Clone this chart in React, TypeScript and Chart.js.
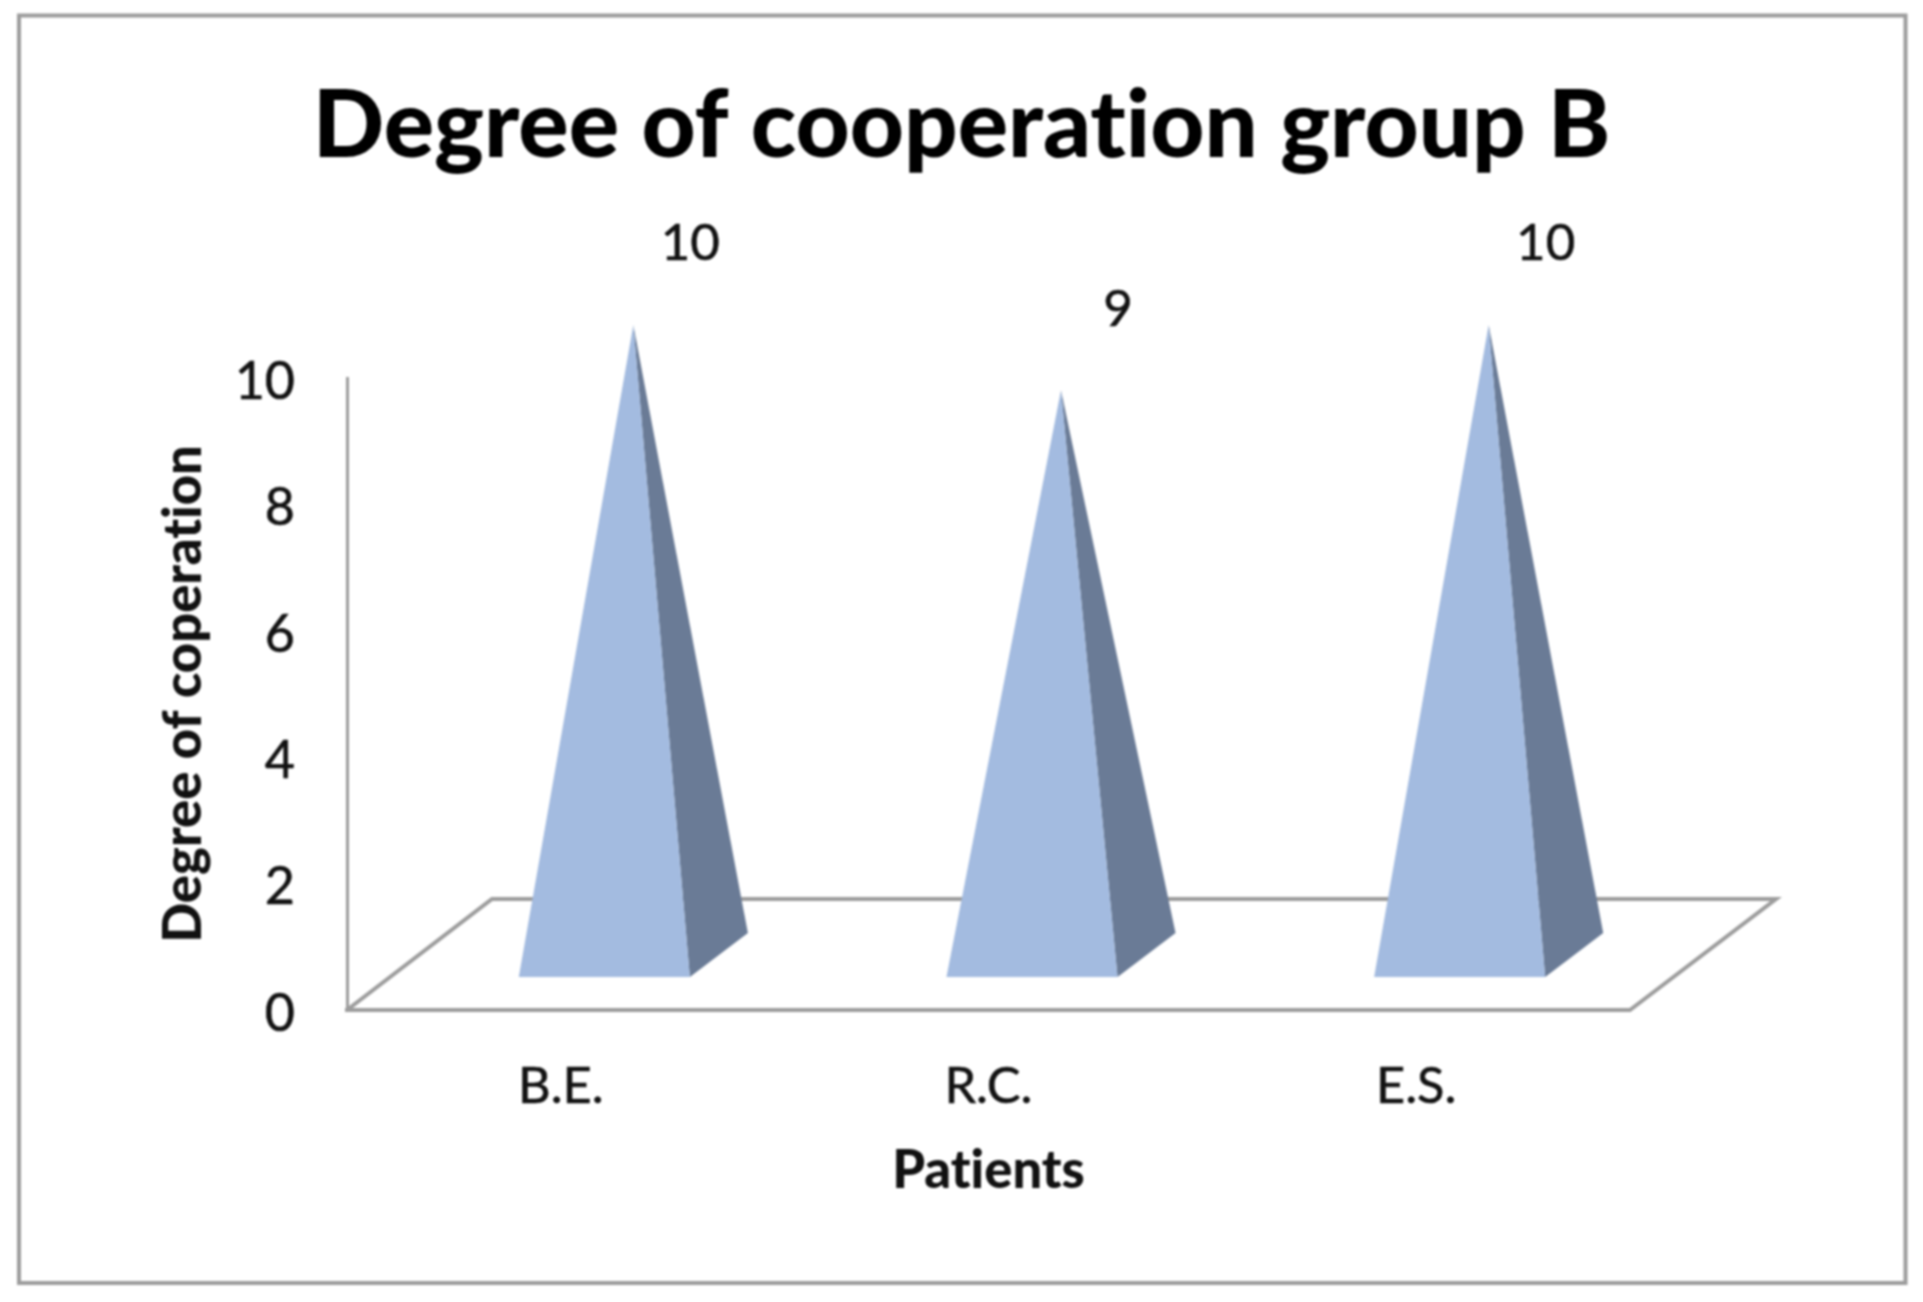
import React, { useEffect, useRef } from "react";
import { Chart, registerables } from "chart.js";

Chart.register(...registerables);

const chartTitle = "Degree of cooperation group B";
const xAxisTitle = "Patients";
const yAxisTitle = "Degree of coperation";
const patients = ["B.E.", "R.C.", "E.S."];
const cooperation = [10, 9, 10];

const FONT = "Lato, sans-serif";
const FRONT = "#a3bbe0";
const SIDE = "#6a7b96";
const LINE = "#9c9c9c";
const INK = "#111111";
const DEPTH_X = 58;
const DEPTH_Y = 44;
const SHIFT_X = 43.5;

function drawPyramid(this: any, ctx: CanvasRenderingContext2D) {
  const half = this.width / 2;
  const cx = this.x + SHIFT_X;
  const left = cx - half;
  const right = cx + half;
  const apexX = cx + DEPTH_X / 2;
  ctx.save();
  ctx.fillStyle = SIDE;
  ctx.beginPath();
  ctx.moveTo(right, this.base);
  ctx.lineTo(right + DEPTH_X, this.base - DEPTH_Y);
  ctx.lineTo(apexX, this.y);
  ctx.closePath();
  ctx.fill();
  ctx.fillStyle = this.options.backgroundColor;
  ctx.beginPath();
  ctx.moveTo(left, this.base);
  ctx.lineTo(right, this.base);
  ctx.lineTo(apexX, this.y);
  ctx.closePath();
  ctx.fill();
  ctx.restore();
}

const pyramidPlugin = {
  id: "pyramids",
  afterDatasetUpdate(chart: any) {
    chart.getDatasetMeta(0).data.forEach((el: any) => {
      el.draw = drawPyramid;
    });
  },
  beforeDraw(chart: any) {
    const { ctx, width, height } = chart;
    ctx.save();
    ctx.fillStyle = "#fff";
    ctx.fillRect(0, 0, width, height);
    ctx.strokeStyle = "#9c9c9c";
    ctx.lineWidth = 4;
    ctx.strokeRect(19, 15.5, 1886.5, 1267.5);
    ctx.restore();
    ctx.textRendering = "optimizeSpeed";
  },
  beforeDatasetsDraw(chart: any) {
    const { ctx, chartArea: a } = chart;
    ctx.save();
    ctx.strokeStyle = LINE;
    ctx.lineWidth = 4;
    ctx.lineJoin = "miter";
    ctx.beginPath();
    ctx.moveTo(a.left, a.bottom);
    ctx.lineTo(a.left + 145, a.bottom - 111);
    ctx.lineTo(a.right + 146, a.bottom - 111);
    ctx.lineTo(a.right, a.bottom);
    ctx.stroke();
    ctx.restore();
  },
  afterDatasetsDraw(chart: any) {
    const { ctx } = chart;
    ctx.save();
    ctx.fillStyle = INK;
    ctx.strokeStyle = INK;
    ctx.lineWidth = 0.6;
    ctx.font = `51px ${FONT}`;
    ctx.textAlign = "center";
    ctx.textBaseline = "middle";
    chart.getDatasetMeta(0).data.forEach((el: any, i: number) => {
      const apexX = el.x + SHIFT_X + DEPTH_X / 2;
      const label = String(cooperation[i]);
      ctx.fillText(label, apexX + 57, el.y - 81);
      ctx.strokeText(label, apexX + 57, el.y - 81);
    });
    ctx.restore();
  },
};

export default function App() {
  const ref = useRef<HTMLCanvasElement>(null);
  useEffect(() => {
    const chart = new Chart(ref.current as HTMLCanvasElement, {
      type: "bar",
      data: {
        labels: patients,
        datasets: [
          {
            label: yAxisTitle,
            data: cooperation,
            backgroundColor: FRONT,
            yAxisID: "depth",
            barPercentage: 0.4,
            categoryPercentage: 1,
            clip: false,
          } as any,
        ],
      },
      plugins: [pyramidPlugin],
      options: {
        animation: false,
        responsive: false,
        layout: { padding: 0 },
        plugins: {
          legend: { display: false },
          tooltip: { enabled: false },
          title: {
            display: true,
            text: chartTitle,
            color: "#000",
            font: { family: FONT, size: 94, weight: "900", lineHeight: 1.2 },
            padding: { top: 70.6, bottom: 194.6 },
          },
        },
        scales: {
          x: {
            grid: { display: false },
            border: { display: true, color: LINE, width: 4 },
            ticks: {
              color: INK,
              font: { family: FONT, size: 50.5 },
              padding: 38,
              maxRotation: 0,
              textStrokeColor: INK,
              textStrokeWidth: 0.6,
            },
            title: {
              display: true,
              text: xAxisTitle,
              color: INK,
              font: { family: FONT, size: 52.5, weight: "900", lineHeight: 1.2 },
              padding: 99.5,
            },
            afterFit(s: any) {
              s.height = 292;
            },
          },
          y: {
            position: "left",
            min: 0,
            max: 10,
            grid: { display: false },
            border: { display: true, color: "#9c9c9c", width: 3 },
            ticks: {
              stepSize: 2,
              color: INK,
              font: { family: FONT, size: 52 },
              padding: 44,
              textStrokeColor: INK,
              textStrokeWidth: 0.6,
            },
            title: {
              display: true,
              text: yAxisTitle,
              color: INK,
              font: { family: FONT, size: 52.5, weight: "900", lineHeight: 1.2 },
              padding: 152.5,
            },
            afterFit(s: any) {
              s.width = 347;
              const compute = s._computeLabelItems;
              if (!s.__nudged) {
                s.__nudged = true;
                s._computeLabelItems = function (area: any) {
                  const items = compute.call(this, area);
                  items.forEach((it: any) => {
                    it.options.translation[1] += 4;
                  });
                  return items;
                };
              }
            },
          },
          depth: {
            position: "right",
            min: -0.506,
            max: 9.187,
            grid: { display: false },
            border: { display: false },
            ticks: { display: false },
            afterFit(s: any) {
              s.width = 293;
            },
          },
        },
      } as any,
    });
    return () => chart.destroy();
  }, []);
  return (
    <div style={{ position: "absolute", left: 0, top: 0, width: 1923, height: 1302 }}>
      <canvas
        ref={ref}
        width={1923}
        height={1302}
        style={{ display: "block", width: 1923, height: 1302, filter: "blur(1.1px)" }}
      />
    </div>
  );
}
